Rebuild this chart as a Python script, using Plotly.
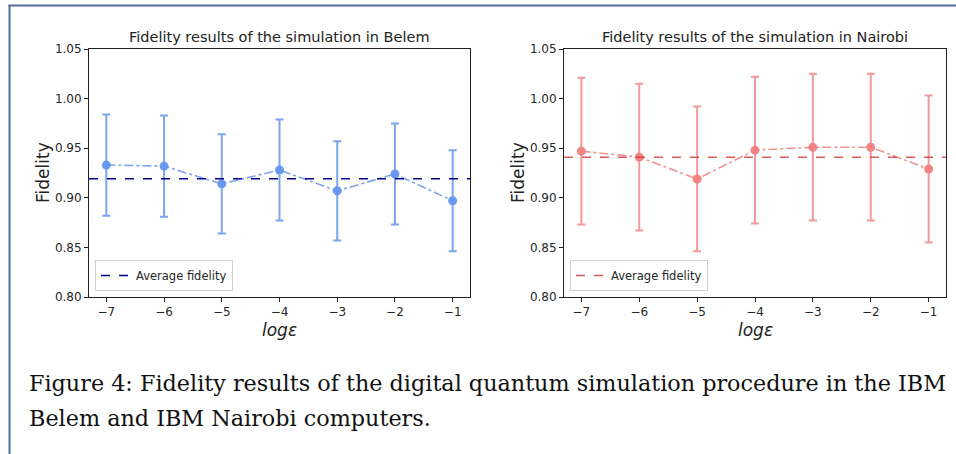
import plotly.graph_objects as go

W, H = 956, 454

log_eps = [-7, -6, -5, -4, -3, -2, -1]
x_tick_labels = ["\u22127", "\u22126", "\u22125", "\u22124", "\u22123", "\u22122", "\u22121"]
y_tick_vals = [0.80, 0.85, 0.90, 0.95, 1.00, 1.05]

belem_fidelity = [0.933, 0.932, 0.914, 0.928, 0.907, 0.924, 0.897]
belem_error = [0.051, 0.051, 0.050, 0.051, 0.050, 0.051, 0.051]

nairobi_fidelity = [0.947, 0.941, 0.919, 0.948, 0.951, 0.951, 0.929]
nairobi_error = [0.074, 0.074, 0.073, 0.074, 0.074, 0.074, 0.074]

titles = ["Fidelity results of the simulation in Belem",
          "Fidelity results of the simulation in Nairobi"]
caption_1 = "Figure 4: Fidelity results of the digital quantum simulation procedure in the IBM"
caption_2 = "Belem and IBM Nairobi computers."

belem_avg = sum(belem_fidelity) / len(belem_fidelity)
nairobi_avg = sum(nairobi_fidelity) / len(nairobi_fidelity)

def px_x(p):
    return p / W

def px_y(p):
    return 1 - p / H

dom1 = [px_x(89), px_x(470)]
dom2 = [px_x(564), px_x(946)]
ydom = [px_y(297), px_y(49)]

fig = go.Figure()

fig.add_trace(go.Scatter(
    x=log_eps, y=belem_fidelity, mode="lines+markers",
    xaxis="x", yaxis="y",
    line=dict(color="rgba(100,149,237,0.85)", width=1.6, dash="dashdot"),
    marker=dict(color="rgba(100,149,237,0.95)", size=9),
    error_y=dict(type="data", array=belem_error, visible=True,
                 color="rgba(100,149,237,0.85)", thickness=2, width=4),
    showlegend=False,
))
fig.add_trace(go.Scatter(
    x=log_eps, y=nairobi_fidelity, mode="lines+markers",
    xaxis="x2", yaxis="y2",
    line=dict(color="rgba(240,128,128,0.85)", width=1.6, dash="dashdot"),
    marker=dict(color="rgba(240,128,128,0.95)", size=9),
    error_y=dict(type="data", array=nairobi_error, visible=True,
                 color="rgba(240,128,128,0.8)", thickness=2, width=4),
    showlegend=False,
))

axis_common = dict(
    showline=True, linecolor="#222", linewidth=1, mirror=True,
    ticks="outside", ticklen=4, tickcolor="#222", tickwidth=1,
    showgrid=False, zeroline=False, automargin=False,
    tickfont=dict(family="DejaVu Sans", size=12, color="#262626"),
)

xr = [-7.3, -0.7]
yr = [0.80, 1.05]

legend_common = dict(xanchor="left", yanchor="bottom",
                     bgcolor="white", bordercolor="#d0d0d0", borderwidth=1,
                     font=dict(family="DejaVu Sans", size=11.5, color="#262626"),
                     itemwidth=30, tracegroupgap=0)

fig.update_layout(
    width=W, height=H,
    margin=dict(l=0, r=0, t=0, b=0, pad=0),
    paper_bgcolor="white", plot_bgcolor="white",
    xaxis=dict(domain=dom1, range=xr, tickvals=log_eps, ticktext=x_tick_labels, anchor="y", **axis_common),
    yaxis=dict(domain=ydom, range=yr, tickvals=y_tick_vals, tickformat=".2f", anchor="x", **axis_common),
    xaxis2=dict(domain=dom2, range=xr, tickvals=log_eps, ticktext=x_tick_labels, anchor="y2", **axis_common),
    yaxis2=dict(domain=ydom, range=yr, tickvals=y_tick_vals, tickformat=".2f", anchor="x2", **axis_common),
    legend=dict(x=px_x(95), y=px_y(291), **legend_common),
    legend2=dict(x=px_x(570), y=px_y(291), **legend_common),
    showlegend=True,
)

shapes = [
    dict(type="line", xref="x domain", yref="y", x0=0, x1=1, y0=belem_avg, y1=belem_avg,
         line=dict(color="darkblue", width=1.5, dash="dash"),
         showlegend=True, name="Average fidelity", legend="legend"),
    dict(type="line", xref="x2 domain", yref="y2", x0=0, x1=1, y0=nairobi_avg, y1=nairobi_avg,
         line=dict(color="rgba(214,60,60,0.85)", width=1.5, dash="dash"),
         showlegend=True, name="Average fidelity", legend="legend2"),
    # page frame
    dict(type="line", xref="paper", yref="paper", x0=px_x(9.5), x1=px_x(9.5), y0=0, y1=px_y(5),
         line=dict(color="#4f6f9f", width=2)),
    dict(type="line", xref="paper", yref="paper", x0=px_x(8.5), x1=1, y0=px_y(5.5), y1=px_y(5.5),
         line=dict(color="#4f6f9f", width=2)),
]
fig.update_layout(shapes=shapes)

ann = []
for dom, t in zip([dom1, dom2], titles):
    cx = (dom[0] + dom[1]) / 2
    ann.append(dict(text=t, x=cx, y=px_y(37), xref="paper", yref="paper",
                    xanchor="center", yanchor="middle", showarrow=False,
                    font=dict(family="DejaVu Sans", size=14.5, color="#222")))
    ann.append(dict(text="<i>log\u03b5</i>", x=cx, y=px_y(330), xref="paper", yref="paper",
                    xanchor="center", yanchor="middle", showarrow=False,
                    font=dict(family="DejaVu Sans", size=17, color="#222")))
for xp in [43, 518]:
    ann.append(dict(text="Fidelity", x=px_x(xp), y=(ydom[0] + ydom[1]) / 2, xref="paper", yref="paper",
                    xanchor="center", yanchor="middle", showarrow=False, textangle=-90,
                    font=dict(family="DejaVu Sans", size=17, color="#222")))
ann.append(dict(text=caption_1, x=px_x(27), y=px_y(383), xref="paper", yref="paper",
                xanchor="left", yanchor="middle", showarrow=False,
                font=dict(family="DejaVu Serif", size=22.3, color="#111")))
ann.append(dict(text=caption_2, x=px_x(27), y=px_y(418), xref="paper", yref="paper",
                xanchor="left", yanchor="middle", showarrow=False,
                font=dict(family="DejaVu Serif", size=22.3, color="#111")))
fig.update_layout(annotations=ann)

fig.write_html("out.html", config={"displayModeBar": False},
               post_script="document.body.style.margin='0';document.body.style.overflow='hidden';")
